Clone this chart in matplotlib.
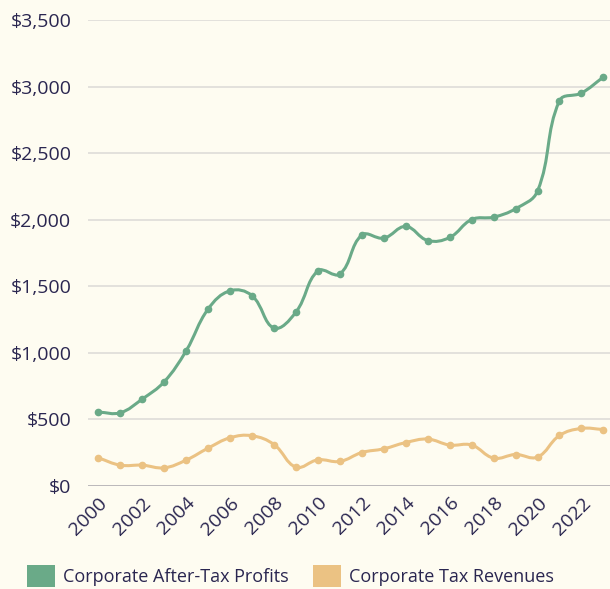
import matplotlib.pyplot as plt
import numpy as np
from matplotlib.path import Path
from matplotlib.patches import PathPatch, Patch

years = list(range(2000, 2024))
profits = [552, 547, 650, 780, 1013, 1327, 1464, 1427, 1184, 1304,
           1614, 1590, 1883, 1860, 1948, 1842, 1865, 2000, 2018, 2081,
           2214, 2893, 2951, 3071]
tax_revenues = [208, 153, 153, 133, 191, 281, 359, 374, 308, 138,
                193, 181, 248, 276, 323, 349, 304, 304, 206, 233,
                214, 376, 429, 421]
y_ticks = [0, 500, 1000, 1500, 2000, 2500, 3000, 3500]
x_ticks = list(range(2000, 2023, 2))
labels = ["Corporate After-Tax Profits", "Corporate Tax Revenues"]

BG = "#fefcf1"
TEXT = "#2a2650"
GREEN = "#6aaa88"
ORANGE = "#ebc283"

plt.rcParams["font.family"] = ["Open Sans", "DejaVu Sans"]

fig = plt.figure(figsize=(6.1, 5.89), dpi=100, facecolor=BG)
ax = fig.add_axes([88 / 610, 103.5 / 589, 1 - 88 / 610, (485.5 - 20) / 589])
ax.set_facecolor(BG)
ax.set_xlim(1999.53, 2023.3)
ax.set_ylim(0, 3500)


def smooth_path(xs, ys, tension=0.4):
    # chart.js style spline (distance weighted), worked out in pixel space
    pts = ax.transData.transform(np.column_stack([xs, ys]))
    n = len(pts)
    cp_prev, cp_next = [], []
    for i in range(n):
        prev = pts[max(i - 1, 0)]
        cur = pts[i]
        nxt = pts[min(i + 1, n - 1)]
        d01 = np.hypot(*(cur - prev))
        d12 = np.hypot(*(nxt - cur))
        tot = d01 + d12 if d01 + d12 > 0 else 1
        cp_prev.append(cur - tension * d01 / tot * (nxt - prev))
        cp_next.append(cur + tension * d12 / tot * (nxt - prev))
    verts = [pts[0]]
    codes = [Path.MOVETO]
    for i in range(n - 1):
        verts += [cp_next[i], cp_prev[i + 1], pts[i + 1]]
        codes += [Path.CURVE4] * 3
    return Path(verts, codes)


for vals, col in [(tax_revenues, ORANGE), (profits, GREEN)]:
    ax.add_patch(PathPatch(smooth_path(years, vals), transform=None,
                           facecolor="none", edgecolor=col, lw=2.2,
                           clip_on=False))
    ax.plot(years, vals, "o", color=col, ms=4.5, clip_on=False)

ax.set_yticks(y_ticks)
ax.set_yticklabels([f"${v:,}" for v in y_ticks])
ax.set_xticks(x_ticks)
ax.set_xticklabels([str(y) for y in x_ticks], rotation=45, ha="right",
                   rotation_mode="anchor")
ax.tick_params(axis="both", length=0, labelsize=14, colors=TEXT)
ax.tick_params(axis="y", pad=12)
ax.tick_params(axis="x", pad=6)
ax.grid(axis="y", color="#dcd9d6", lw=1.1)
ax.set_axisbelow(True)
for s in ax.spines.values():
    s.set_visible(False)
ax.axhline(0, color="#b8b5b8", lw=1.3, zorder=1)

handles = [Patch(facecolor=GREEN, label=labels[0]),
           Patch(facecolor=ORANGE, label=labels[1])]
fig.legend(handles=handles, loc="center left",
           bbox_to_anchor=(27 / 610, 1 - 576 / 589),
           borderaxespad=0, borderpad=0,
           ncol=2, frameon=False, fontsize=13, labelcolor=TEXT,
           handlelength=1.55, handleheight=1.55, handletextpad=0.45,
           columnspacing=1.35)

fig.savefig("out.png", dpi=100, facecolor=BG)
